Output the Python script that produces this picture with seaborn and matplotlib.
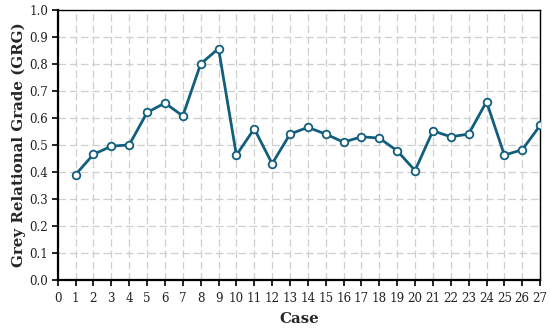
import matplotlib
matplotlib.use("Agg")
import matplotlib.pyplot as plt
import seaborn as sns
import pandas as pd

cases = list(range(1, 28))
grg = [0.390, 0.465, 0.495, 0.500, 0.620, 0.655, 0.607, 0.800, 0.857, 0.462,
       0.560, 0.430, 0.540, 0.565, 0.540, 0.510, 0.530, 0.525, 0.478, 0.405,
       0.552, 0.530, 0.540, 0.660, 0.462, 0.482, 0.572]
x_ticks = list(range(0, 28))
y_ticks = [round(i * 0.1, 1) for i in range(11)]

sns.set_theme(style="white")
plt.rcParams['font.family'] = ['DejaVu Serif']

df = pd.DataFrame({"Case": cases, "GRG": grg})
color = "#125e7e"

fig = plt.figure(figsize=(5.5, 3.3), dpi=100)
ax = fig.add_axes([0.105, 0.152, 0.877, 0.818])
sns.lineplot(data=df, x="Case", y="GRG", ax=ax, color=color, linewidth=2.0,
             marker="o", markersize=5.5, markerfacecolor="white",
             markeredgecolor=color, markeredgewidth=1.3, zorder=3)

ax.set_xlim(0, 27)
ax.set_ylim(0, 1.0)
ax.set_xticks(x_ticks)
ax.set_yticks(y_ticks)
ax.set_yticklabels([f"{v:.1f}" for v in y_ticks])
ax.grid(True, color="#cfcfcf", linestyle=(0, (6, 3)), linewidth=0.9)
ax.set_axisbelow(True)
ax.tick_params(axis="both", direction="out", length=4, width=1.2, labelsize=8.6,
               color="black", labelcolor="#222222")
ax.tick_params(axis="x", pad=5)
ax.tick_params(axis="y", pad=3)
ax.tick_params(axis="both", which="both", bottom=True, left=True)
for side in ["left", "bottom"]:
    ax.spines[side].set_linewidth(1.6)
    ax.spines[side].set_color("black")
for side in ["top", "right"]:
    ax.spines[side].set_linewidth(1.0)
    ax.spines[side].set_color("black")
    ax.spines[side].set_visible(True)
ax.set_xlabel("Case", fontsize=10.8, fontweight="bold", labelpad=5)
ax.set_ylabel("Grey Relational Grade (GRG)", fontsize=10.8, fontweight="bold", labelpad=2)

fig.savefig("out.png", dpi=100)
